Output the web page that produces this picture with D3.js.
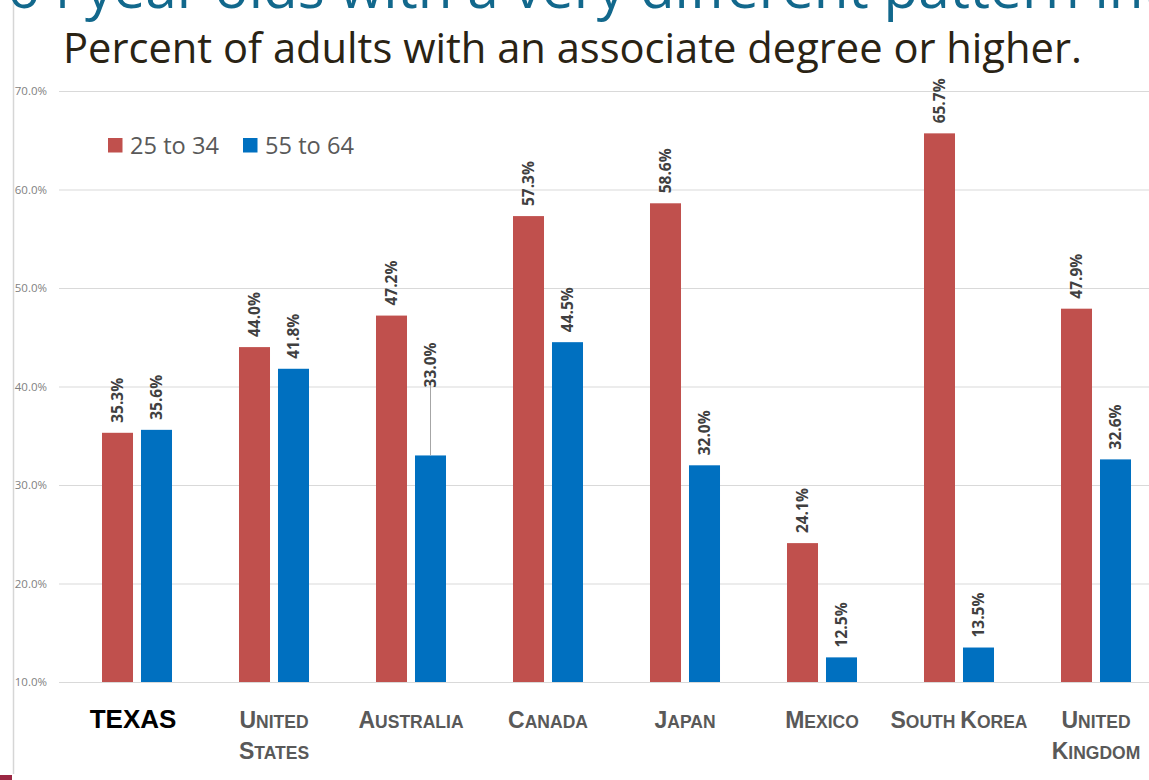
<!DOCTYPE html>
<html>
<head>
<meta charset="utf-8">
<script src="https://cdn.jsdelivr.net/npm/d3@7"></script>
<style>
  html, body { margin: 0; padding: 0; background: #ffffff; overflow: hidden; }
  svg { display: block; }
</style>
</head>
<body>
<svg id="chart" width="1149" height="780"></svg>
<script>
// ---------- data ----------
const categories = ["Texas", "United States", "Australia", "Canada", "Japan", "Mexico", "South Korea", "United Kingdom"];
const categoryLines = [["Texas"], ["United", "States"], ["Australia"], ["Canada"], ["Japan"], ["Mexico"], ["South Korea"], ["United", "Kingdom"]];
const seriesNames = ["25 to 34", "55 to 64"];
const values25to34 = [35.3, 44.0, 47.2, 57.3, 58.6, 24.1, 65.7, 47.9];
const values55to64 = [35.6, 41.8, 33.0, 44.5, 32.0, 12.5, 13.5, 32.6];
const yTicks = [10, 20, 30, 40, 50, 60, 70];
const titleText = "Percent of adults with an associate degree or higher.";
const topTitlePrefix = "55-64";
const topTitleMain = "year olds with a very different pattern ";
const topTitleTail = "internationally";

// ---------- styles ----------
const seriesColors = ["#C0504D", "#0070C0"];
const W = 1149, H = 780;
const svg = d3.select("#chart");

// scales
const x0 = d3.scaleBand().domain(categories).range([68.5, 1164.5]).paddingInner(0.489).paddingOuter(0.2445);
const x1 = d3.scaleBand().domain(seriesNames).range([0, x0.bandwidth()]).paddingInner(0.205);
const y = d3.scaleLinear().domain([10, 70]).range([682, 91]);

// left vertical rule and bottom-left accent
svg.append("line").attr("x1", 13.5).attr("x2", 13.5).attr("y1", 0).attr("y2", 774)
  .attr("stroke", "#d6d6d6").attr("stroke-width", 1.5);
svg.append("rect").attr("x", 0).attr("y", 775).attr("width", 12).attr("height", 5).attr("fill", "#9B2743");

// top (cut) title
const topFont = "'Open Sans', sans-serif";
const tmp = svg.append("text").attr("font-family", topFont).attr("font-size", 50).text(topTitleMain);
const tmpLen = tmp.node().getComputedTextLength();
tmp.remove();
const topSize = 50 * 995 / tmpLen;
svg.append("text").attr("x", 85).attr("y", 8).attr("font-family", topFont).attr("font-size", topSize)
  .attr("fill", "#12688C").text(topTitleMain + topTitleTail).attr("xml:space", "preserve");
svg.append("text").attr("x", 72).attr("y", 8).attr("text-anchor", "end").attr("font-family", topFont)
  .attr("font-size", topSize).attr("fill", "#12688C").text(topTitlePrefix);

// subtitle
const t2 = svg.append("text").attr("x", 63).attr("y", 63).attr("font-family", "'Open Sans', sans-serif")
  .attr("font-size", 40).attr("fill", "#2a2314").text(titleText);
const t2Len = t2.node().getComputedTextLength();
t2.attr("font-size", 40 * 1019 / t2Len);

// y axis with gridlines
const yAxis = d3.axisLeft(y).tickValues(yTicks).tickSize(1090).tickPadding(12)
  .tickFormat(d => d.toFixed(1) + "%");
const gy = svg.append("g").attr("transform", `translate(${W},0)`).call(yAxis);
gy.select(".domain").remove();
gy.selectAll(".tick line").attr("stroke", "#d9d9d9").attr("stroke-width", 1);
gy.selectAll(".tick text").attr("fill", "#7f7f7f").attr("font-family", "'Open Sans', sans-serif")
  .attr("font-size", 11.5);

// bars
const rows = categories.map((c, i) => ({ cat: c, vals: [values25to34[i], values55to64[i]] }));
const groups = svg.append("g").selectAll("g").data(rows).join("g")
  .attr("transform", d => `translate(${x0(d.cat)},0)`);

groups.selectAll("rect").data(d => d.vals.map((v, j) => ({ cat: d.cat, s: seriesNames[j], v, j })))
  .join("rect")
  .attr("x", d => x1(d.s))
  .attr("width", x1.bandwidth())
  .attr("y", d => y(d.v))
  .attr("height", d => y(10) - y(d.v))
  .attr("fill", d => seriesColors[d.j]);

// data labels
const liftedLabel = { cat: "Australia", series: "55 to 64", lift: 58 };
groups.each(function (row) {
  const g = d3.select(this);
  row.vals.forEach((v, j) => {
    const s = seriesNames[j];
    const cx = x1(s) + x1.bandwidth() / 2;
    const top = y(v);
    let ly = top - 10;
    if (row.cat === liftedLabel.cat && s === liftedLabel.series) {
      ly = top - 10 - liftedLabel.lift;
      g.append("line").attr("x1", cx).attr("x2", cx).attr("y1", top).attr("y2", ly - 5)
        .attr("stroke", "#a6a6a6").attr("stroke-width", 1);
    }
    g.append("text")
      .attr("transform", `translate(${cx},${ly}) rotate(-90)`)
      .attr("dy", "0.35em")
      .attr("font-family", "'Open Sans', sans-serif")
      .attr("font-weight", "bold")
      .attr("font-size", 15.5)
      .attr("fill", "#404040")
      .text(v.toFixed(1) + "%");
  });
});

// x axis labels (small caps)
const xAxis = d3.axisBottom(x0).tickSize(0).tickFormat("");
const gx = svg.append("g").attr("transform", `translate(0,${y(10)})`).call(xAxis);
gx.select(".domain").remove();
gx.selectAll(".tick").each(function (cat) {
  const i = categories.indexOf(cat);
  const tick = d3.select(this);
  const lines = categoryLines[i];
  lines.forEach((line, li) => {
    const t = tick.append("text").attr("y", 45.5 + li * 31).attr("text-anchor", "middle")
      .attr("font-family", "'Liberation Sans', Arial, sans-serif").attr("font-weight", "bold");
    if (cat === "Texas") {
      t.attr("font-size", 26).attr("fill", "#000000").attr("x", -4).text(line.toUpperCase());
    } else {
      t.attr("fill", "#595959");
      line.split(" ").forEach((word, wi) => {
        if (wi > 0) t.append("tspan").attr("font-size", 17.5).text(" ");
        t.append("tspan").attr("font-size", 23).text(word[0].toUpperCase());
        t.append("tspan").attr("font-size", 17.5).text(word.slice(1).toUpperCase());
      });
    }
  });
});

// legend
const legend = svg.append("g");
const legendX = [108, 243];
seriesNames.forEach((s, j) => {
  legend.append("rect").attr("x", legendX[j]).attr("y", 138).attr("width", 14.5).attr("height", 14.5)
    .attr("fill", seriesColors[j]);
  const lt = legend.append("text").attr("x", legendX[j] + 22).attr("y", 145.5).attr("dy", "0.35em")
    .attr("font-family", "'Open Sans', sans-serif").attr("font-size", 22).attr("fill", "#595959").text(s);
  const len = lt.node().getComputedTextLength();
  lt.attr("font-size", 22 * 89 / len);
});
</script>
</body>
</html>
